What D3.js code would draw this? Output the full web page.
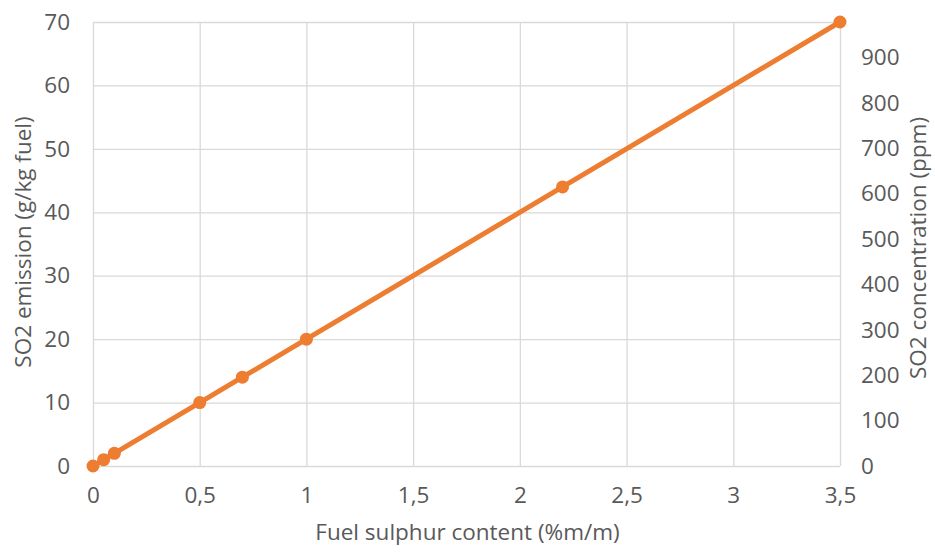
<!DOCTYPE html>
<html><head><meta charset="utf-8">
<script src="https://cdn.jsdelivr.net/npm/d3@7"></script>
<style>body{margin:0;background:#fff}svg{display:block}text{font-family:"Open Sans",sans-serif;fill:#595959}</style>
</head><body>
<svg id="c" width="935" height="552"></svg>
<script>
const sulphur = [0, 0.05, 0.1, 0.5, 0.7, 1, 2.2, 3.5];
const emission = [0, 1, 2, 10, 14, 20, 44, 70];
const xTicks = [0, 0.5, 1, 1.5, 2, 2.5, 3, 3.5];
const yLeftTicks = [0, 10, 20, 30, 40, 50, 60, 70];
const yRightTicks = [0, 100, 200, 300, 400, 500, 600, 700, 800, 900];
const rightMax = 978;

const svg = d3.select("#c");
const L = 93, R = 840, T = 22, B = 466;
const FS = "22.5px";
const x = d3.scaleLinear().domain([0, 3.5]).range([L, R]);
const y = d3.scaleLinear().domain([0, 70]).range([B, T]);
const y2 = d3.scaleLinear().domain([0, rightMax]).range([B, T]);
const fmt = d => String(d).replace(".", ",");
const grid = "#d9d9d9";

// gridlines
svg.append("g").attr("transform", `translate(0,${B})`)
  .call(d3.axisBottom(x).tickValues(xTicks).tickSize(-(B - T)).tickFormat(""))
  .call(g => { g.select(".domain").remove(); g.selectAll("line").attr("stroke", grid).attr("stroke-width", 1.3); });
svg.append("g").attr("transform", `translate(${L},0)`)
  .call(d3.axisLeft(y).tickValues(yLeftTicks).tickSize(-(R - L)).tickFormat(""))
  .call(g => { g.select(".domain").remove(); g.selectAll("line").attr("stroke", grid).attr("stroke-width", 1.3); });

// tick labels
const xa = svg.append("g").attr("transform", `translate(0,${B})`)
  .call(d3.axisBottom(x).tickValues(xTicks).tickSize(0).tickPadding(21).tickFormat(fmt));
xa.select(".domain").remove();
const ya = svg.append("g").attr("transform", `translate(${L},0)`)
  .call(d3.axisLeft(y).tickValues(yLeftTicks).tickSize(0).tickPadding(23).tickFormat(fmt));
ya.select(".domain").remove();
const yb = svg.append("g").attr("transform", `translate(${R},0)`)
  .call(d3.axisRight(y2).tickValues(yRightTicks).tickSize(0).tickPadding(21).tickFormat(fmt));
yb.select(".domain").remove();
svg.selectAll(".tick text").style("font-family", '"Open Sans",sans-serif').style("font-size", FS).attr("fill", "#595959");

// titles
svg.append("text").attr("x", (L + R) / 2 + 1).attr("y", 540).attr("text-anchor", "middle")
  .style("font-size", FS).text("Fuel sulphur content (%m/m)");
svg.append("text").attr("transform", `translate(25,${(T + B) / 2 - 2}) rotate(-90)`).attr("text-anchor", "middle")
  .attr("dominant-baseline", "middle").style("font-size", FS).text("SO2 emission (g/kg fuel)");
svg.append("text").attr("transform", `translate(920,${(T + B) / 2 + 4}) rotate(-90)`).attr("text-anchor", "middle")
  .attr("dominant-baseline", "middle").style("font-size", FS).text("SO2 concentration (ppm)");

// line
const data = sulphur.map((s, i) => [s, emission[i]]);
svg.append("path").datum(data)
  .attr("fill", "none").attr("stroke", "#ED7D31").attr("stroke-width", 5).attr("stroke-linejoin", "round")
  .attr("d", d3.line().x(d => x(d[0])).y(d => y(d[1])));
svg.selectAll("circle.pt").data(data).join("circle").attr("class", "pt")
  .attr("cx", d => x(d[0])).attr("cy", d => y(d[1])).attr("r", 6.5).attr("fill", "#ED7D31");
</script>
</body></html>
